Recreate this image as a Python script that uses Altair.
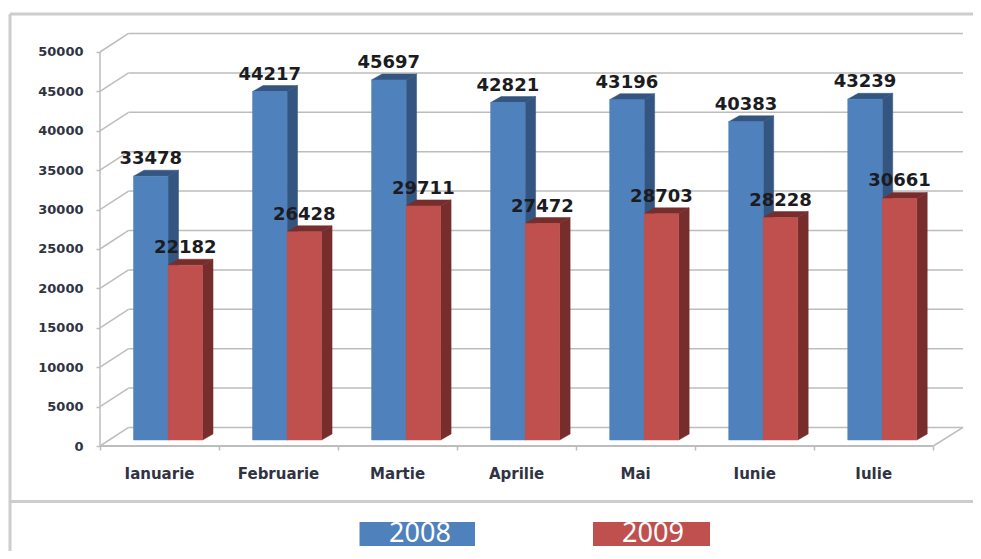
import altair as alt
import pandas as pd

months = ["Ianuarie", "Februarie", "Martie", "Aprilie", "Mai", "Iunie", "Iulie"]
values_2008 = [33478, 44217, 45697, 42821, 43196, 40383, 43239]
values_2009 = [22182, 26428, 29711, 27472, 28703, 28228, 30661]
grid_values = [0, 5000, 10000, 15000, 20000, 25000, 30000, 35000, 40000, 45000, 50000]
series_names = ["2008", "2009"]

# geometry, in data units
X_MAX = 7.25
Y_MAX = 52411
BAR_W = 0.29
BAR_START = 0.2815
BAR_DX = 0.088
BAR_DY = 760
WALL_DX = 0.24
WALL_DY = 2350
PX = 863 / X_MAX

GRAY = "#bdbdbd"
FRAME = "#cdcdcd"
FRONT = {"2008": "#4F81BD", "2009": "#C0504D"}
SHADE = {"2008": "#33557F", "2009": "#772D2B"}

x_scale = alt.Scale(domain=[0, X_MAX], range=[0, 863], nice=False, zero=False)
y_scale = alt.Scale(domain=[0, Y_MAX], range=[413, 0], nice=False, zero=False)
x_axis = alt.Axis(
    values=list(range(8)), labels=False, title=None, domain=False, grid=False,
    tickColor=GRAY, tickWidth=1.5, tickSize=4)
y_axis = alt.Axis(
    values=grid_values, title=None, domain=False, grid=False, format="d",
    tickColor=GRAY, tickWidth=1.5, tickSize=4, labelPadding=13,
    labelFont="DejaVu Sans", labelFontWeight="bold", labelFontSize=13, labelColor="#2f3342")


def X(field):
    return alt.X(field, type="quantitative", scale=x_scale, axis=x_axis, title=None)


def Y(field):
    return alt.Y(field, type="quantitative", scale=y_scale, axis=y_axis, stack=None, title=None)


fronts, faces, labels = [], [], []
for s, (name, vals) in enumerate(zip(series_names, [values_2008, values_2009])):
    for i, v in enumerate(vals):
        xl = i + BAR_START + s * BAR_W
        xr = xl + BAR_W
        top = v + BAR_DY
        fronts.append(dict(series=name, x=xl, x2=xr, y=BAR_DY, y2=top))
        labels.append(dict(series=name, x=(xl + xr) / 2, y=top, text=str(v)))
        side = f"{name}-{i}-side"
        faces += [
            dict(series=name, face=side, x=xr, y=BAR_DY, y2=top),
            dict(series=name, face=side, x=xr + BAR_DX, y=BAR_DY * 2, y2=top + BAR_DY),
        ]
        cap = f"{name}-{i}-top"
        faces += [
            dict(series=name, face=cap, x=xl, y=top, y2=top),
            dict(series=name, face=cap, x=xl + BAR_DX, y=top, y2=top + BAR_DY),
            dict(series=name, face=cap, x=xr, y=top, y2=top + BAR_DY),
            dict(series=name, face=cap, x=xr + BAR_DX, y=top + BAR_DY, y2=top + BAR_DY),
        ]
fronts = pd.DataFrame(fronts)
faces = pd.DataFrame(faces)
labels = pd.DataFrame(labels)

grid_df = pd.DataFrame({"v": grid_values, "back": [v + WALL_DY for v in grid_values]})
grid_df["x0"] = WALL_DX
grid_df["x1"] = X_MAX

back_grid = alt.Chart(grid_df).mark_rule(color=GRAY, strokeWidth=1.5).encode(
    x=X("x0"), x2="x1:Q", y=Y("back"))

wall_rows = []
for v in grid_values:
    wall_rows += [dict(v=v, x=0, y=v), dict(v=v, x=WALL_DX, y=v + WALL_DY)]
wall_grid = alt.Chart(pd.DataFrame(wall_rows)).mark_line(color=GRAY, strokeWidth=1.5).encode(
    x=X("x"), y=Y("y"), detail="v:N"
)

floor_right = alt.Chart(pd.DataFrame([
    dict(x=7, y=0), dict(x=X_MAX, y=WALL_DY)
])).mark_line(color=GRAY, strokeWidth=1.5).encode(x=X("x"), y=Y("y"))

y_domain = alt.Chart(pd.DataFrame([dict(x=0, y=0, y2=50000)])).mark_rule(
    color=GRAY, strokeWidth=1.5
).encode(x=X("x"), y=Y("y"), y2="y2:Q")
x_domain = alt.Chart(pd.DataFrame([dict(x=0, x2=7, y=0)])).mark_rule(
    color=GRAY, strokeWidth=2
).encode(x=X("x"), x2="x2:Q", y=Y("y"))


def faces_layer(name):
    return alt.Chart(faces[faces.series == name]).mark_area(
        color=SHADE[name], opacity=1, interpolate="linear",
        stroke=SHADE[name], strokeWidth=0.5
    ).encode(x=X("x"), y=Y("y"), y2="y2:Q", detail="face:N")


def front_layer(name):
    return alt.Chart(fronts[fronts.series == name]).mark_rect(
        color=FRONT[name], stroke=FRONT[name], strokeWidth=0.5
    ).encode(x=X("x"), x2="x2:Q", y=Y("y"), y2="y2:Q")


value_labels = alt.Chart(labels).mark_text(
    font="DejaVu Sans", fontWeight="bold", fontSize=18, color="#1b1b22",
    baseline="middle", align="center", dy=-17
).encode(x=X("x"), y=Y("y"), text="text:N")

month_df = pd.DataFrame({"x": [i + 0.5 for i in range(7)], "label": months})
month_labels = alt.Chart(month_df).mark_text(
    font="DejaVu Sans", fontWeight="bold", fontSize=15, color="#2f3342",
    baseline="middle", align="center"
).encode(x=X("x"), y=alt.value(441), text="label:N")

# outer frame, in pixels relative to the plot area (plot origin at page x=100, y=33)
frame_src = pd.DataFrame({"a": [0]})
frame_left = alt.Chart(frame_src).mark_rule(color=FRAME, strokeWidth=3).encode(
    x=alt.value(-90), y=alt.value(-19), y2=alt.value(518))
frame_top = alt.Chart(frame_src).mark_rule(color=FRAME, strokeWidth=3).encode(
    x=alt.value(-90), x2=alt.value(873), y=alt.value(-19))
frame_mid = alt.Chart(frame_src).mark_rule(color=FRAME, strokeWidth=3).encode(
    x=alt.value(-90), x2=alt.value(873), y=alt.value(468.5))

# legend boxes
legend_df = pd.DataFrame({
    "series": series_names,
    "x0": [259.5 / PX, 493 / PX],
    "x1": [375 / PX, 610 / PX],
    "xc": [320 / PX, 553 / PX],
})
legend_boxes = alt.Chart(legend_df).mark_rect().encode(
    x=X("x0"), x2="x1:Q",
    y=alt.value(489), y2=alt.value(513),
    color=alt.Color("series:N", scale=alt.Scale(domain=series_names, range=[FRONT[s] for s in series_names]), legend=None),
)
legend_text = alt.Chart(legend_df).mark_text(
    font="Noto Sans", fontSize=27, color="white", baseline="middle", align="center"
).encode(x=X("xc"), y=alt.value(501), text="series:N")

chart = alt.layer(
    frame_left, frame_top, frame_mid,
    back_grid, wall_grid, floor_right, y_domain, x_domain,
    faces_layer("2008"), front_layer("2008"),
    faces_layer("2009"), front_layer("2009"),
    value_labels, month_labels, legend_boxes, legend_text,
).properties(
    width=863, height=413,
    autosize=alt.AutoSizeParams(type="none"),
    padding={"left": 92, "top": 25, "right": 10, "bottom": 105},
    background="white",
).configure_view(stroke=None)

chart.save("out.html", embed_options={"renderer": "svg", "actions": False})
